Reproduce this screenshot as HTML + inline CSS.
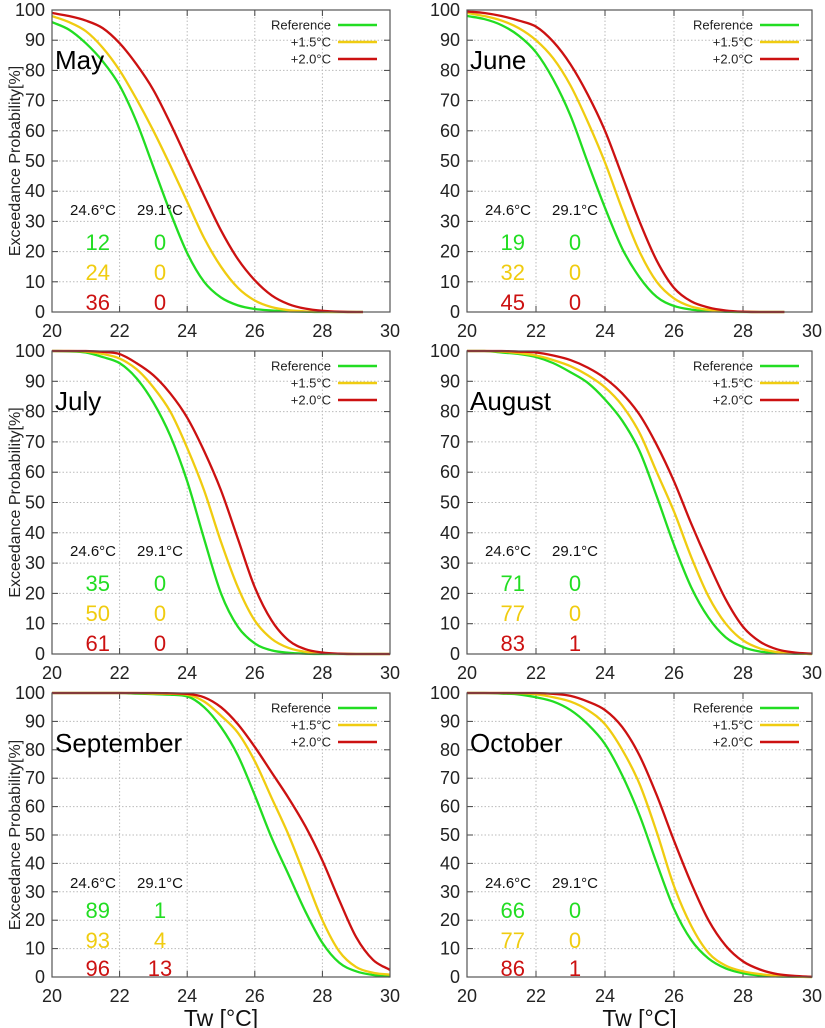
<!DOCTYPE html>
<html><head><meta charset="utf-8"><style>
body{margin:0;background:#fff;}
svg{display:block;font-family:"Liberation Sans",sans-serif;}
</style></head><body>
<svg id="chart" width="825" height="1028" viewBox="0 0 825 1028"></svg>
<script>
const xGrid=[20,20.5,21,21.5,22,22.5,23,23.5,24,24.5,25,25.5,26,26.5,27,27.5,28,28.5,29,29.5,30];
const months=["May","June","July","August","September","October"];
const monthXMax=[29.2,29.2,30,30,30,30];
const seriesNames=["Reference","+1.5°C","+2.0°C"];
const seriesColors=["#22dd22","#f0cc10","#cc1111"];
const may_ref=[96,93.5,89,83,75,63,48,33,19.5,10,4.8,2.2,1,0.5,0.2,0.1,0,0,0,0,0];
const may_p15=[98,96,93,87.5,80,70.5,60,48.5,36.5,24.5,15,8,3.8,1.6,0.6,0.2,0.1,0,0,0,0];
const may_p20=[99,98,96.5,94,89,82,73.5,62.5,50.5,38.5,27,17.5,10.5,5.5,2.6,1.1,0.4,0.1,0,0,0];
const june_ref=[98,97,95,91.5,86,77,65,49.5,34.5,21,11.5,5,2,0.8,0.3,0.1,0,0,0,0,0];
const june_p15=[99,98,96.5,94,90,84,75,63,49.5,34,20,10,4.5,1.8,0.7,0.2,0.1,0,0,0,0];
const june_p20=[99.5,99,98,96.5,94.5,89.5,82,72,60,45,30,17,8,3.5,1.5,0.5,0.1,0,0,0,0];
const july_ref=[100,99.9,99.5,98,96,91,83,72,57,38,20,9,3.5,1.2,0.4,0.1,0,0,0,0,0];
const july_p15=[100,100,99.8,99,97.5,94,88,80,68,54,37,22,11,5,2,0.7,0.2,0.1,0,0,0];
const july_p20=[100,100,100,99.7,99,96,92,86,78,67,54,38,22,11,4.5,1.6,0.5,0.1,0,0,0];
const aug_ref=[100,100,99.5,99,98,96,93,89.5,84,77,67,52,36,22,12,5.5,2.3,0.8,0.3,0.1,0];
const aug_p15=[100,100,99.8,99.3,98.5,97,95,92,88,82,73,60,47,32,19,10,4.5,1.8,0.6,0.2,0];
const aug_p20=[100,100,100,99.8,99.5,98.5,97,94.5,91,86,79,69,57,43,30,18,9,4,1.5,0.5,0.1];
const sep_ref=[100,100,100,100,100,99.8,99.6,99.4,98.8,95,88,78,64,49,36,23,12,5,2,0.7,0.2];
const sep_p15=[100,100,100,100,100,100,99.8,99.7,99.4,97,92,86,76,63,50,35,20,9,3.5,1.5,0.8];
const sep_p20=[100,100,100,100,100,100,100,99.9,99.7,98.5,95,89,81,72,63,53,41,27,14,6,2.5];
const oct_ref=[100,100,99.8,99.5,98.5,97,94,89,82,71,57,40,24,13,6.5,3,1.3,0.5,0.2,0.1,0];
const oct_p15=[100,100,100,99.9,99.5,98.5,97,94,89,80,68,51,32,18,8.5,4,2,1,0.4,0.1,0];
const oct_p20=[100,100,100,100,100,99.7,99,97,94,88,78,64,48,33,20,11,5.5,2.6,1,0.4,0.1];
const monthSeries=[[may_ref,may_p15,may_p20],[june_ref,june_p15,june_p20],[july_ref,july_p15,july_p20],[aug_ref,aug_p15,aug_p20],[sep_ref,sep_p15,sep_p20],[oct_ref,oct_p15,oct_p20]];
const tableHeaders=["24.6°C","29.1°C"];
const table246=[[12,24,36],[19,32,45],[35,50,61],[71,77,83],[89,93,96],[66,77,86]];
const table291=[[0,0,0],[0,0,0],[0,0,0],[0,0,1],[1,4,13],[0,0,1]];
const xTicks=[20,22,24,26,28,30];
const yTicks=[0,10,20,30,40,50,60,70,80,90,100];

const NS="http://www.w3.org/2000/svg";
const svg=document.getElementById('chart');
function mk(tag,attrs,parent,text){const e=document.createElementNS(NS,tag);for(const k in attrs)e.setAttribute(k,attrs[k]);if(text!==undefined)e.textContent=text;(parent||svg).appendChild(e);return e;}

function monoPath(pts){
  const n=pts.length,dx=[],m=[],t=[];
  for(let k=0;k<n-1;k++){dx[k]=pts[k+1][0]-pts[k][0];m[k]=(pts[k+1][1]-pts[k][1])/dx[k];}
  t[0]=m[0];t[n-1]=m[n-2];
  for(let k=1;k<n-1;k++){t[k]=(m[k-1]*m[k]<=0)?0:(m[k-1]+m[k])/2;}
  for(let k=0;k<n-1;k++){
    if(m[k]===0){t[k]=0;t[k+1]=0;continue;}
    const a=t[k]/m[k],b=t[k+1]/m[k],s=a*a+b*b;
    if(s>9){const tau=3/Math.sqrt(s);t[k]=tau*a*m[k];t[k+1]=tau*b*m[k];}
  }
  let d='M'+pts[0][0]+','+pts[0][1];
  for(let k=0;k<n-1;k++){
    const h=dx[k]/3;
    d+=' C'+(pts[k][0]+h)+','+(pts[k][1]+t[k]*h)+' '+(pts[k+1][0]-h)+','+(pts[k+1][1]-t[k+1]*h)+' '+pts[k+1][0]+','+pts[k+1][1];
  }
  return d;
}

const colBox=[[52,390],[467,812]];
const rowBox=[[10,312],[351,654],[693,977]];

months.forEach((m,i)=>{
  const c=i%2,r=Math.floor(i/2);
  const L=colBox[c][0],R=colBox[c][1],T=rowBox[r][0],B=rowBox[r][1];
  const sx=v=>L+(v-20)/10*(R-L);
  const sy=v=>B-v/100*(B-T);
  const g=mk('g',{},svg);
  
  
  xTicks.slice(1,-1).forEach(t=>{const l=mk('line',{x1:sx(t),x2:sx(t),y1:T,y2:B,stroke:'#bbb','stroke-dasharray':'1.5,2','stroke-width':1},g);});
  yTicks.slice(1,-1).forEach(t=>{const l=mk('line',{x1:L,x2:R,y1:sy(t),y2:sy(t),stroke:'#bbb','stroke-dasharray':'1.5,2','stroke-width':1},g);});
  xTicks.forEach(t=>{
    mk('line',{x1:sx(t),x2:sx(t),y1:B,y2:B-6,stroke:'#444'},g);
    mk('line',{x1:sx(t),x2:sx(t),y1:T,y2:T+6,stroke:'#444'},g);
    const tx=mk('text',{x:sx(t),y:B+25,'text-anchor':'middle','font-size':18,fill:'#222'},g,t);
    
  });
  yTicks.forEach(t=>{
    mk('line',{x1:L,x2:L+6,y1:sy(t),y2:sy(t),stroke:'#444'},g);
    mk('line',{x1:R,x2:R-6,y1:sy(t),y2:sy(t),stroke:'#444'},g);
    const ty=mk('text',{x:L-7,y:sy(t)+6,'text-anchor':'end','font-size':18,fill:'#222'},g,t);
    
  });
  monthSeries[i].forEach((vals,s)=>{
    const pts=[];
    xGrid.forEach((x,k)=>{if(x<=monthXMax[i]+1e-9)pts.push([sx(x),sy(vals[k])]);});
    if(monthXMax[i]<30){const k=xGrid.findIndex(x=>x>monthXMax[i]);pts.push([sx(monthXMax[i]),sy(vals[k])]);}
    const p=mk('path',{d:monoPath(pts),fill:'none',stroke:seriesColors[s],'stroke-width':2.3},g);
    
    
  });
  const fr=mk('rect',{x:L,y:T,width:R-L,height:B-T,fill:'none',stroke:'#555','stroke-width':1.2},g);
  
  seriesNames.forEach((n,s)=>{
    const y=T+15+s*17;
    const lt=mk('text',{x:R-59,y:y+4.5,'text-anchor':'end','font-size':13,fill:'#222'},g,n);
    
    const ll=mk('line',{x1:R-52,x2:R-13,y1:y,y2:y,stroke:seriesColors[s],'stroke-width':2.5},g);
    
  });
  const mt=mk('text',{x:L+3,y:T+59,'font-size':26,fill:'#000'},g,m);
  
  const tb=(r==2)?[195,225,255,283]:[205,240,270,300];
  const h1=mk('text',{x:L+41,y:T+tb[0],'text-anchor':'middle','font-size':15,fill:'#111'},g,tableHeaders[0]);
  
  const h2=mk('text',{x:L+108,y:T+tb[0],'text-anchor':'middle','font-size':15,fill:'#111'},g,tableHeaders[1]);
  
  for(let s=0;s<3;s++){
    const y=T+tb[s+1];
    const v1=mk('text',{x:L+58,y:y,'text-anchor':'end','font-size':22,fill:seriesColors[s]},g,table246[i][s]);
    
    const v2=mk('text',{x:L+108,y:y,'text-anchor':'middle','font-size':22,fill:seriesColors[s]},g,table291[i][s]);
    
  }
  if(c==0){
    const cy=(T+B)/2;
    const yl=mk('text',{x:20,y:cy,'text-anchor':'middle','font-size':16,fill:'#222',transform:'rotate(-90 20 '+cy+')'},g,'Exceedance Probability[%]');
    
  }
  if(r==2){
    const xl=mk('text',{x:(L+R)/2,y:1026,'text-anchor':'middle','font-size':23,fill:'#111'},g,'Tw [°C]');
    
  }
});
</script>
</body></html>
